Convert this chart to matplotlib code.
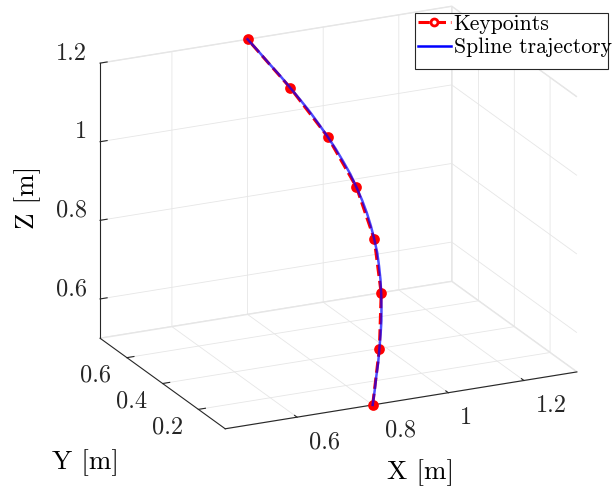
import matplotlib
matplotlib.use("Agg")
import matplotlib.pyplot as plt
from matplotlib.lines import Line2D
from matplotlib.patches import Rectangle
from mpl_toolkits.mplot3d import proj3d

plt.rcParams['font.family'] = 'serif'
plt.rcParams['font.serif'] = ['cmr10']
plt.rcParams['axes.formatter.use_mathtext'] = True
plt.rcParams['mathtext.fontset'] = 'cm'
plt.rcParams['grid.color'] = '#e6e6e6'
plt.rcParams['grid.linewidth'] = 0.6

# keypoints
key_x = [0.800, 0.865, 0.917, 0.946, 0.946, 0.917, 0.865, 0.800]
key_y = [0.05, 0.15, 0.25, 0.35, 0.45, 0.55, 0.65, 0.75]
key_z = [0.50, 0.60, 0.70, 0.80, 0.90, 1.00, 1.10, 1.20]

# points along the blue spline curve
spl_x = [0.800, 0.817, 0.833, 0.850, 0.865, 0.880, 0.894, 0.906, 0.917, 0.927,
         0.935, 0.942, 0.946, 0.949, 0.950, 0.949, 0.946, 0.942, 0.935, 0.927,
         0.917, 0.906, 0.894, 0.880, 0.865, 0.850, 0.833, 0.817, 0.800]
spl_y = [0.050, 0.075, 0.100, 0.125, 0.150, 0.175, 0.200, 0.225, 0.250, 0.275,
         0.300, 0.325, 0.350, 0.375, 0.400, 0.425, 0.450, 0.475, 0.500, 0.525,
         0.550, 0.575, 0.600, 0.625, 0.650, 0.675, 0.700, 0.725, 0.750]
spl_z = [0.500, 0.525, 0.550, 0.575, 0.600, 0.625, 0.650, 0.675, 0.700, 0.725,
         0.750, 0.775, 0.800, 0.825, 0.850, 0.875, 0.900, 0.925, 0.950, 0.975,
         1.000, 1.025, 1.050, 1.075, 1.100, 1.125, 1.150, 1.175, 1.200]

x_ticks = [0.6, 0.8, 1.0, 1.2]
x_labels = ['0.6', '0.8', '1', '1.2']
y_ticks = [0.2, 0.4, 0.6]
y_labels = ['0.2', '0.4', '0.6']
z_ticks = [0.6, 0.8, 1.0, 1.2]
z_labels = ['0.6', '0.8', '1', '1.2']

xmin, xmax = 0.41, 1.34
ymin, ymax = 0.05, 0.75
zmin, zmax = 0.5, 1.2

W, H = 614, 487
fig = plt.figure(figsize=(W / 100, H / 100), dpi=100)
L = 450
ax = fig.add_axes([107.4 / W, 38.4 / H, L / W, L / H], projection='3d')
ax.set_proj_type('ortho')
ax.set_xlim(xmin, xmax)
ax.set_ylim(ymin, ymax)
ax.set_zlim(zmin, zmax)
ax.set_box_aspect((0.93, 0.70, 0.70), zoom=1.2256)
ax.view_init(elev=20, azim=-115.3)

ax.plot(key_x, key_y, key_z, color='red', ls='--', lw=2.2, marker='o',
        ms=6.5, mfc='red', mec='red', mew=1.2, zorder=3)
ax.plot(spl_x, spl_y, spl_z, color='blue', lw=1.8, alpha=0.7, zorder=4)

ax.set_xticks(x_ticks)
ax.set_yticks(y_ticks)
ax.set_zticks(z_ticks)
for a in (ax.xaxis, ax.yaxis, ax.zaxis):
    a.set_tick_params(labelbottom=False, colors='#262626')
    a.set_pane_color((1, 1, 1, 1))
    a.pane.set_edgecolor('#e6e6e6')
    a.line.set_color('#262626')
    a.line.set_linewidth(0.8)
    a._axinfo['tick']['inward_factor'] = 0.0
    a._axinfo['tick']['outward_factor'] = 0.25

# tick labels placed next to the ticks, MATLAB style
M = ax.get_proj()
tc = '#262626'
fs = 17.5


def put(x, y, z, s, **kw):
    px, py, _ = proj3d.proj_transform(x, y, z, M)
    ax.text2D(px, py, s, transform=ax.transData, fontsize=fs, color=tc,
              va='center', **kw)


for t, s in zip(x_ticks, x_labels):
    put(t, ymin - 0.067, zmin - 0.043, s, ha='left')
for t, s in zip(y_ticks, y_labels):
    put(xmin - 0.082, t, zmin - 0.033, s, ha='center')
for t, s in zip(z_ticks, z_labels):
    put(xmin, ymax + 0.073, t, s, ha='right')

fig.text(421 / W, 1 - 473 / H, 'X [m]', ha='center', va='center', fontsize=19.5)
fig.text(85 / W, 1 - 463 / H, 'Y [m]', ha='center', va='center', fontsize=19.5)
fig.text(28 / W, 1 - 197 / H, 'Z [m]', ha='center', va='center', fontsize=19.5,
         rotation=90)

h1 = Line2D([], [], color='red', ls='--', lw=2.2, marker='o', ms=5,
            mfc='white', mec='red', mew=2)
h2 = Line2D([], [], color='blue', lw=1.8)
fig.add_artist(Rectangle((415 / W, 1 - 69 / H), 193 / W, 56 / H,
                         transform=fig.transFigure, fc='white', ec='#262626',
                         lw=0.8, zorder=4))
fig.legend([h1, h2], ['Keypoints', 'Spline trajectory'], loc='upper left',
           bbox_to_anchor=(418 / W, 1 - 14 / H), frameon=False, fontsize=15.6,
           handlelength=1.5, handletextpad=0.15, labelspacing=0.2,
           borderpad=0, borderaxespad=0).set_zorder(5)

fig.savefig('out.png', dpi=100)
